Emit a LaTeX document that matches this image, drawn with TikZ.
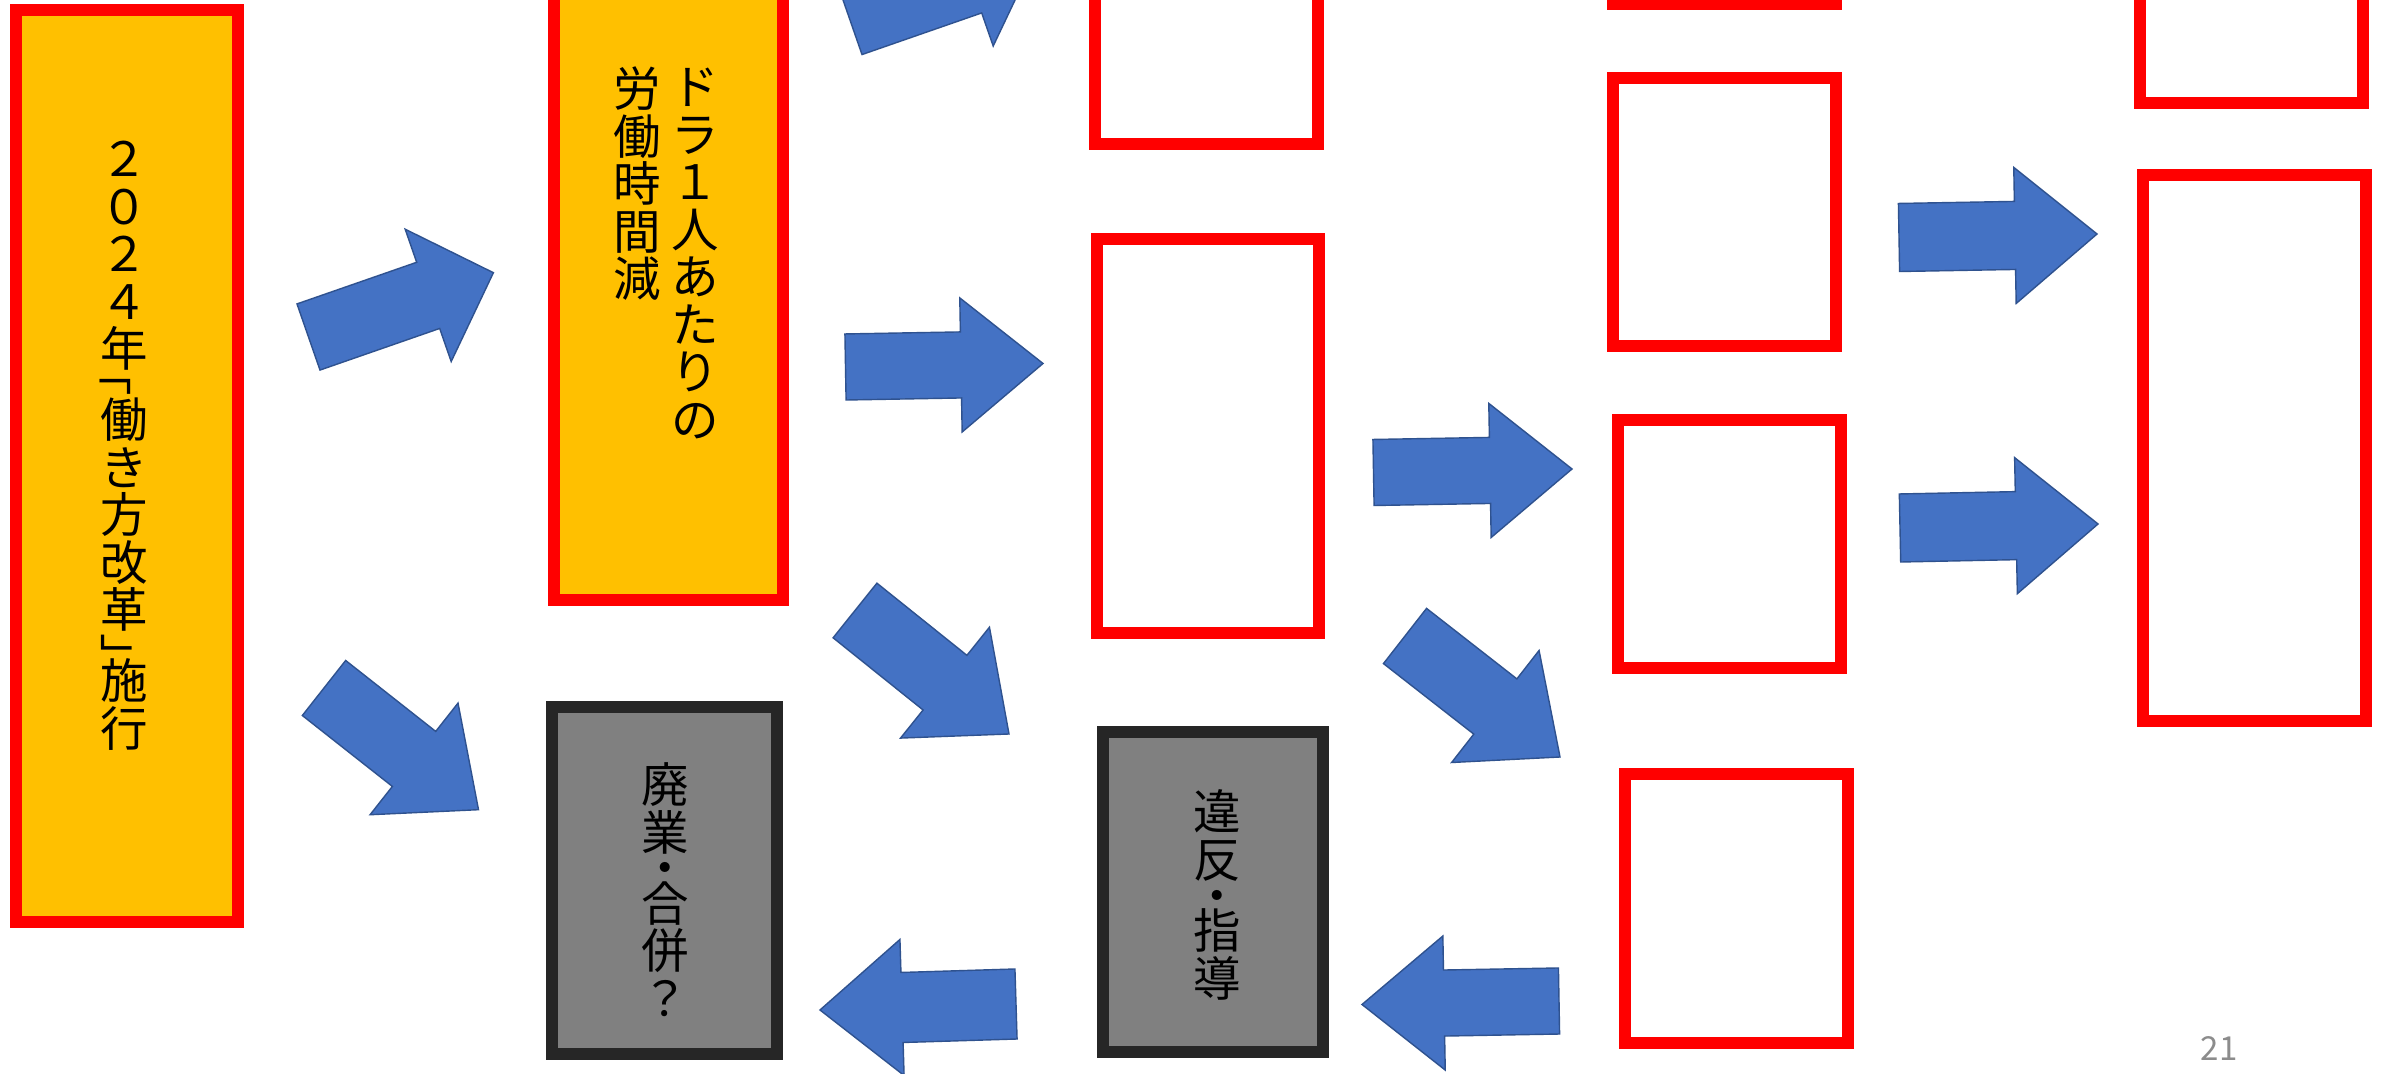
\documentclass[tikz,border=0pt]{standalone}
\usepackage{fontspec}
\usetikzlibrary{calc}
\newfontfamily\jp{Noto Sans CJK JP}
\definecolor{red0}{HTML}{FF0000}
\definecolor{orange0}{HTML}{FFC000}
\definecolor{gray0}{HTML}{808080}
\definecolor{dark0}{HTML}{262626}
\definecolor{blue0}{HTML}{4472C4}
\definecolor{blueedge}{HTML}{2F528F}
\definecolor{pagegray}{HTML}{8C8C8C}
\newdimen\vcpitch
\setlength\vcpitch{13.5pt}
\newdimen\obrshift \setlength\obrshift{-4.5pt}
\newdimen\cbrshift \setlength\cbrshift{0pt}
\def\obr{o}\def\cbr{c}\def\mdot{m}
\makeatletter
\newcommand\vc@cell[1]{\hbox to \vcpitch{\hss\vrule height .88\vcpitch depth .12\vcpitch width 0pt #1\hss}}
\newcommand\vc@rot[1]{\rotatebox[origin=c]{-90}{\vc@cell{#1}}}
\newcommand\vc@item[1]{%
  \ifx#1\obr \vskip-.5\vcpitch \hbox to \vcpitch{\kern\obrshift\vc@rot{「}\hss}%
  \else\ifx#1\cbr \hbox to \vcpitch{\kern\cbrshift\vc@rot{」}\hss}\vskip-.5\vcpitch
  \else\ifx#1\mdot \vskip-.25\vcpitch\vc@cell{・}\vskip-.25\vcpitch
  \else \vc@cell{#1}\fi\fi\fi}
\newcommand\vcol[1]{\vbox{\baselineskip=\vcpitch\lineskiplimit=-\maxdimen\lineskip=0pt
  \@tfor\vc@c:=#1\do{\expandafter\vc@item\vc@c}}}
\makeatother
\tikzset{
  boxbase/.style={rectangle, inner sep=0pt, outer sep=0pt, line width=0.12cm},
  redbox/.style={boxbase, draw=red0, fill=white},
  orangebox/.style={boxbase, draw=red0, fill=orange0},
  graybox/.style={boxbase, draw=dark0, fill=gray0},
  blockarrow/.style={fill=blue0, draw=blueedge, line width=0.4pt, line join=miter},
  jptext/.style={inner sep=0pt, outer sep=0pt, font=\jp\fontsize{13.5pt}{13.5pt}\selectfont},
  pagenum/.style={inner sep=0pt, text=pagegray, font=\jp\fontsize{9.4pt}{9.4pt}\selectfont}
}
% #1 name, #2 style, #3 x1, #4 y1, #5 x2, #6 y2
\newcommand\boxnode[6]{\node[#2, minimum width={(#5-#3)*0.01cm}, minimum height={(#6-#4)*0.01cm}] (#1) at ({(#3+#5)/2},{(#4+#6)/2}) {};}
% #1 tail coordinate, #2 tip coordinate, #3 shaft half width, #4 head half width, #5 head length
\newcommand\barrow[5]{%
  \coordinate (bj) at ($(#2)!#5!(#1)$);
  \draw[blockarrow] ($(#1)!#3!90:(#2)$) -- ($(bj)!#3!90:(#2)$) -- ($(bj)!#4!90:(#2)$) -- (#2)
    -- ($(bj)!#4!-90:(#2)$) -- ($(bj)!#3!-90:(#2)$) -- ($(#1)!#3!-90:(#2)$) -- cycle;}
\begin{document}
\begin{tikzpicture}[x=0.01cm, y=-0.01cm]
\useasboundingbox (0,0) rectangle (2382,1074);
\clip (0,0) rectangle (2382,1074);
\fill[white] (0,0) rectangle (2382,1074);
% boxes
\boxnode{A}{orangebox}{16}{10}{238}{922}
\boxnode{B}{orangebox}{554}{-60}{783}{600}
\boxnode{C}{graybox}{552}{707.5}{777}{1054}
\boxnode{D}{redbox}{1095}{-60}{1318}{144}
\boxnode{E}{redbox}{1097}{239}{1319}{633}
\boxnode{F}{graybox}{1103}{732}{1323}{1052}
\boxnode{G}{redbox}{1613}{-60}{1836}{4}
\boxnode{H}{redbox}{1613}{78}{1836}{346}
\boxnode{J}{redbox}{1618}{420}{1841}{668}
\boxnode{K}{redbox}{1625}{774}{1848}{1043}
\boxnode{L}{redbox}{2140}{-60}{2363}{103}
\boxnode{M}{redbox}{2143}{175}{2366}{721}
% texts
\node[jptext, anchor=north] (tA) at (124,135) {\vcol{２０２４年\obr 働き方改革\cbr 施行}};
\node[jptext, anchor=north] (tB1) at (695,63) {\vcol{ドラ１人あたりの}};
\node[jptext, anchor=north] (tB2) at (637.5,65) {\vcol{労働時間減}};
\node[jptext] (tC) at (665,891.5) {\vcol{廃業\mdot 合併？}};
\node[jptext] (tF) at (1217.5,895) {\vcol{違反\mdot 指導}};
\node[pagenum] (pn) at (2219,1049) {21};
% arrows
\coordinate (a0t) at (850.5,21.5);  \coordinate (a0p) at (1035.4,-42.8);
\coordinate (a1t) at (308.5,337);   \coordinate (a1p) at (493.4,272.7);
\coordinate (a2t) at (324,688);     \coordinate (a2p) at (478.5,809.7);
\coordinate (a3t) at (845.5,367);   \coordinate (a3p) at (1043,363.5);
\coordinate (a4t) at (855,610.5);   \coordinate (a4p) at (1009,734);
\coordinate (a5t) at (1373.5,472.5);\coordinate (a5p) at (1572,469);
\coordinate (a6t) at (1405,636);    \coordinate (a6p) at (1560,757);
\coordinate (a7t) at (1559,1001);   \coordinate (a7p) at (1362,1004.5);
\coordinate (a8t) at (1016,1004);   \coordinate (a8p) at (820,1010);
\coordinate (a9t) at (1899,237.5);  \coordinate (a9p) at (2097,234);
\coordinate (a10t) at (1900,528);   \coordinate (a10p) at (2098,524);
\barrow{a0t}{a0p}{0.35cm}{0.70cm}{0.69cm}
\barrow{a1t}{a1p}{0.35cm}{0.70cm}{0.69cm}
\barrow{a2t}{a2p}{0.35cm}{0.71cm}{0.82cm}
\barrow{a3t}{a3p}{0.33cm}{0.67cm}{0.82cm}
\barrow{a4t}{a4p}{0.35cm}{0.71cm}{0.82cm}
\barrow{a5t}{a5p}{0.33cm}{0.67cm}{0.82cm}
\barrow{a6t}{a6p}{0.35cm}{0.71cm}{0.82cm}
\barrow{a7t}{a7p}{0.33cm}{0.67cm}{0.82cm}
\barrow{a8t}{a8p}{0.35cm}{0.68cm}{0.82cm}
\barrow{a9t}{a9p}{0.34cm}{0.68cm}{0.82cm}
\barrow{a10t}{a10p}{0.34cm}{0.68cm}{0.82cm}
\end{tikzpicture}
\end{document}
